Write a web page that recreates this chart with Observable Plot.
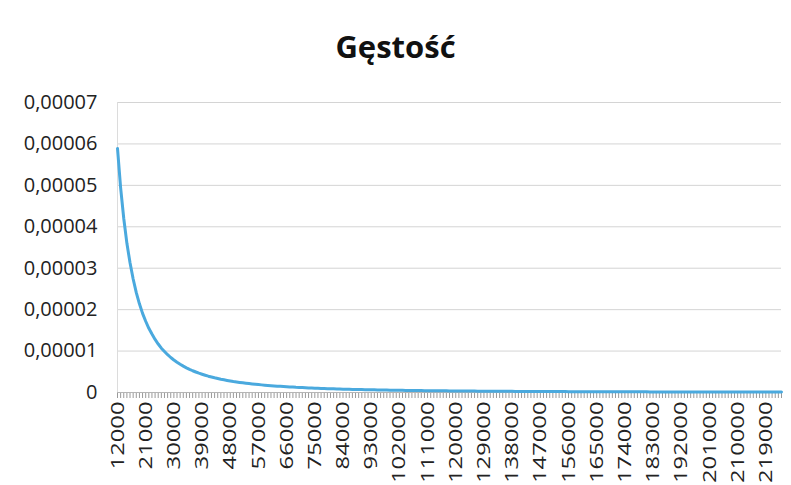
<!DOCTYPE html>
<html>
<head>
<meta charset="utf-8">
<script src="https://cdn.jsdelivr.net/npm/d3@7"></script>
<script src="https://cdn.jsdelivr.net/npm/@observablehq/plot@0.6"></script>
<style>
  html, body { margin: 0; padding: 0; background: #fff; }
  #title { height: 90px; box-sizing: border-box; padding-top: 29px; text-align: center;
           font-family: "Open Sans", sans-serif; font-weight: bold; font-size: 31px; color: #111; line-height: 34px; }
</style>
</head>
<body>
<div id="title">Gęstość</div>
<div id="chart"></div>
<script>
// Categories (x): 12000 .. 224000 step 1000
const categories = d3.range(12000, 224001, 1000);
// Density values, in units of 1e-5
const density_1e5 = [
  5.89, 4.94, 4.20, 3.60, 3.13, 2.74, 2.41, 2.14, 1.91, 1.72,
  1.55, 1.41, 1.28, 1.17, 1.07, 0.990, 0.913, 0.845, 0.784, 0.730,
  0.681, 0.636, 0.596, 0.559, 0.525, 0.495, 0.466, 0.441, 0.417, 0.394,
  0.374, 0.355, 0.338, 0.321, 0.306, 0.292, 0.279, 0.266, 0.255, 0.244,
  0.234, 0.224, 0.215, 0.207, 0.199, 0.191, 0.184, 0.177, 0.171, 0.165,
  0.159, 0.153, 0.148, 0.143, 0.138, 0.134, 0.130, 0.125, 0.122, 0.118,
  0.114, 0.111, 0.108, 0.104, 0.101, 0.0985, 0.0958, 0.0931, 0.0906, 0.0882,
  0.0858, 0.0836, 0.0814, 0.0793, 0.0773, 0.0753, 0.0735, 0.0717, 0.0699, 0.0682,
  0.0666, 0.0651, 0.0635, 0.0621, 0.0607, 0.0593, 0.0580, 0.0567, 0.0555, 0.0543,
  0.0531, 0.0520, 0.0509, 0.0498, 0.0488, 0.0478, 0.0469, 0.0459, 0.0450, 0.0441,
  0.0433, 0.0424, 0.0416, 0.0408, 0.0400, 0.0393, 0.0386, 0.0379, 0.0372, 0.0365,
  0.0359, 0.0352, 0.0346, 0.0340, 0.0334, 0.0328, 0.0323, 0.0317, 0.0312, 0.0307,
  0.0302, 0.0297, 0.0292, 0.0287, 0.0282, 0.0278, 0.0274, 0.0269, 0.0265, 0.0261,
  0.0257, 0.0253, 0.0249, 0.0245, 0.0242, 0.0238, 0.0235, 0.0231, 0.0228, 0.0224,
  0.0221, 0.0218, 0.0215, 0.0212, 0.0209, 0.0206, 0.0203, 0.0200, 0.0198, 0.0195,
  0.0193, 0.0190, 0.0188, 0.0185, 0.0183, 0.0180, 0.0178, 0.0176, 0.0173, 0.0171,
  0.0169, 0.0167, 0.0165, 0.0163, 0.0161, 0.0159, 0.0157, 0.0155, 0.0153, 0.0151,
  0.0149, 0.0147, 0.0146, 0.0144, 0.0142, 0.0141, 0.0139, 0.0137, 0.0136, 0.0134,
  0.0133, 0.0131, 0.0130, 0.0128, 0.0127, 0.0125, 0.0124, 0.0123, 0.0121, 0.0120,
  0.0119, 0.0117, 0.0116, 0.0115, 0.0114, 0.0112, 0.0111, 0.0110, 0.0109, 0.0108,
  0.0107, 0.0106, 0.0104, 0.0103, 0.0102, 0.0101, 0.0100, 0.0099, 0.0098, 0.0097,
  0.0096, 0.0095, 0.0094
];
// Tick labels on x axis
const xTickLabels = [12000, 21000, 30000, 39000, 48000, 57000, 66000, 75000, 84000, 93000,
  102000, 111000, 120000, 129000, 138000, 147000, 156000, 165000, 174000, 183000,
  192000, 201000, 210000, 219000];
// Y ticks
const yTicks = [0, 0.00001, 0.00002, 0.00003, 0.00004, 0.00005, 0.00006, 0.00007];

const data = categories.map((c, i) => ({x: c, y: density_1e5[i] * 1e-5}));
const labelSet = new Set(xTickLabels);

const chart = Plot.plot({
  width: 791,
  height: 395,
  marginLeft: 117,
  marginRight: 10,
  marginTop: 12,
  marginBottom: 93,
  style: {fontFamily: "Open Sans, sans-serif", background: "#fff", overflow: "visible"},
  x: {type: "linear", domain: [categories[0], categories[categories.length - 1]]},
  y: {domain: [0, 0.00007]},
  marks: [
    Plot.gridY(yTicks, {stroke: "#d4d4d4", strokeOpacity: 1, strokeWidth: 1}),
    Plot.ruleX([categories[0]], {stroke: "#dcdcdc", strokeWidth: 1}),
    Plot.axisY(yTicks, {
      tickSize: 0, tickPadding: 20, fontSize: 20, fill: "#222",
      tickFormat: d => d === 0 ? "0" : d.toFixed(5).replace(".", ","),
      label: null
    }),
    Plot.axisX(categories, {
      tickSize: 6, stroke: "#9a9a9a", strokeWidth: 1, tickPadding: 3,
      tickRotate: -90, fontSize: 19, fill: "#222",
      tickFormat: d => labelSet.has(d) ? String(d) : "",
      label: null
    }),
    Plot.ruleY([0], {stroke: "#b5b5b5", strokeWidth: 1}),
    Plot.line(data, {x: "x", y: "y", stroke: "#4aa9de", strokeWidth: 3})
  ]
});
// stretch rotated x labels along their length (reference glyphs are elongated)
d3.select(chart).selectAll("g[aria-label='x-axis tick label'] text").each(function() {
  const t = this.getAttribute("transform") || "";
  this.setAttribute("transform", t + " scale(1.25,1)");
});
document.getElementById("chart").appendChild(chart);
</script>
</body>
</html>
